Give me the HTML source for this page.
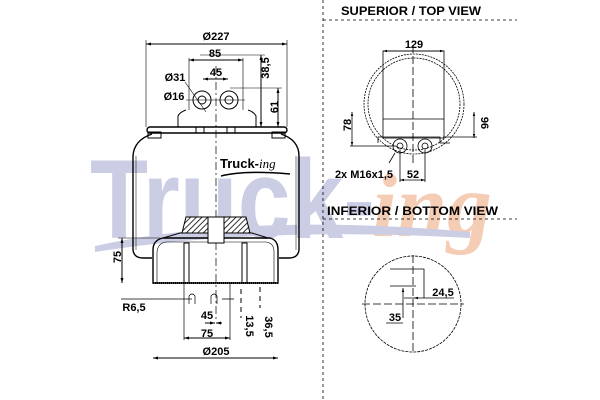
<!DOCTYPE html>
<html><head><style>
html,body{margin:0;padding:0;background:#fff;}
svg{display:block;font-family:"Liberation Sans",sans-serif;}
</style></head><body>
<svg width="600" height="400" viewBox="0 0 600 400" xmlns="http://www.w3.org/2000/svg">
<defs>
<pattern id="h" width="4" height="4" patternUnits="userSpaceOnUse" patternTransform="rotate(45)">
<rect width="4" height="4" fill="#fff"/><line x1="0" y1="0" x2="0" y2="4" stroke="#000" stroke-width="1.6"/></pattern>
<marker id="a" viewBox="0 0 10 10" refX="10" refY="5" markerWidth="5" markerHeight="5" orient="auto-start-reverse"><path d="M0,2 L10,5 L0,8z" fill="#000"/></marker>
</defs>
<!-- watermark -->
<g fill="#cbcde4" font-weight="bold" font-size="112" font-family="Liberation Sans,sans-serif">
<text x="90" y="238" textLength="285" lengthAdjust="spacingAndGlyphs">Truck-</text>
</g>
<text x="372" y="236" fill="#f5cdb5" font-style="italic" font-weight="bold" font-size="90" font-family="Liberation Serif,serif" textLength="120" lengthAdjust="spacingAndGlyphs">ing</text>
<path d="M95,246 Q250,212 470,232 L470,238 Q260,226 95,252z" fill="#cbcde4"/>
<!-- main drawing -->
<g stroke="#000" fill="none" stroke-width="1">
<line x1="146" y1="44" x2="287" y2="44" marker-start="url(#a)" marker-end="url(#a)"/>
<line x1="146" y1="40" x2="146" y2="127" stroke-width=".6"/>
<line x1="287" y1="40" x2="287" y2="127" stroke-width=".6"/>
<line x1="189" y1="60" x2="243" y2="60" marker-start="url(#a)" marker-end="url(#a)"/>
<line x1="189" y1="58" x2="189" y2="110" stroke-width=".6"/>
<line x1="243" y1="58" x2="243" y2="110" stroke-width=".6"/>
<line x1="203" y1="79" x2="228" y2="79" marker-start="url(#a)" marker-end="url(#a)"/>
<line x1="200" y1="55" x2="265" y2="55" stroke-width=".6"/>
<line x1="261" y1="55" x2="261" y2="127" marker-start="url(#a)" marker-end="url(#a)"/>
<line x1="230" y1="88" x2="282" y2="88" stroke-width=".6"/>
<line x1="278" y1="88" x2="278" y2="127" marker-start="url(#a)" marker-end="url(#a)"/>
<line x1="186" y1="100" x2="245" y2="100" stroke-width=".6"/>
<line x1="185" y1="82" x2="206" y2="112" stroke-width=".6"/>
<circle cx="202" cy="100" r="9"/><circle cx="202" cy="100" r="4"/>
<circle cx="229" cy="100" r="9"/><circle cx="229" cy="100" r="4"/>
<path d="M178,127 L178,116 Q180,112 186,110 M256,127 L256,116 Q254,112 248,110"/>
<rect x="147" y="127" width="140" height="6" rx="3" stroke-width="1.4"/>
<rect x="196" y="127" width="8" height="6"/><rect x="227" y="127" width="8" height="6"/>
<line x1="216" y1="66" x2="216" y2="320" stroke-dasharray="8,3,2,3" stroke-width=".7"/>
<!-- bellows -->
<path d="M152,134 Q134,140 133,156 L133,250 Q134,258 143,258 L152,258" stroke-width="1.4"/>
<path d="M281,134 Q299,140 299,156 L299,250 Q298,258 289,258 L279,258" stroke-width="1.4"/>
<path d="M136,156 L136,250" stroke-width=".5"/><path d="M296,156 L296,250" stroke-width=".5"/>
<rect x="148" y="132" width="13" height="6"/><rect x="272" y="132" width="13" height="6"/>
<!-- piston -->
<path d="M153,283 L153,250 Q153,240 163,238 L270,238 Q278,240 278,250 L278,283z" stroke-width="1.4"/>
<path d="M157,283 L157,252 Q158,243 166,242 L266,242 Q274,243 274,252 L274,283" stroke-width=".6"/>
<path d="M163,238 L180,233 L252,233 L268,238" stroke-width="1"/>
<path d="M182,233 L186,217 L246,217 L250,233z" fill="url(#h)"/>
<rect x="208" y="217" width="16" height="26" fill="#fff"/>
<rect x="184" y="243" width="5" height="40"/><rect x="242" y="243" width="5" height="40"/>
<line x1="153" y1="283" x2="278" y2="283" stroke-width="2" stroke-dasharray="1,1"/>
<line x1="184" y1="283" x2="184" y2="340" stroke-width=".7"/>
<line x1="230" y1="283" x2="230" y2="340" stroke-width=".7"/>
<path d="M189,304 L189,296 Q192,292 195,296 L195,304 M211,304 L211,296 Q214,292 217,296 L217,304" stroke-width=".7"/>
<line x1="121" y1="299" x2="192" y2="299" stroke-width=".8"/>
<line x1="222" y1="299" x2="234" y2="299" stroke-width=".8"/>
<line x1="205" y1="323" x2="215" y2="323" marker-end="url(#a)"/>
<line x1="222" y1="323" x2="216" y2="323" marker-end="url(#a)"/>
<line x1="184" y1="338" x2="230" y2="338" marker-start="url(#a)" marker-end="url(#a)"/>
<line x1="153" y1="358" x2="278" y2="358" marker-start="url(#a)" marker-end="url(#a)"/>
<line x1="122" y1="238" x2="122" y2="283" marker-start="url(#a)" marker-end="url(#a)"/>
<line x1="118" y1="238" x2="160" y2="238" stroke-width=".6"/>
<line x1="241" y1="289" x2="241" y2="318" stroke-dasharray="5,4"/>
<line x1="260" y1="287" x2="260" y2="308" stroke-dasharray="5,4"/>
</g>
<g font-weight="bold" font-size="11" fill="#000" text-anchor="middle">
<text x="216" y="40">Ø227</text>
<text x="215" y="57">85</text>
<text x="216" y="76">45</text>
<text x="175" y="81">Ø31</text>
<text x="174" y="100">Ø16</text>
<text x="257" y="80" transform="rotate(-90 257 68)">38,5</text>
<text x="274" y="111" transform="rotate(-90 274 107)">61</text>
<text x="120" y="264" transform="rotate(-90 117 260)">75</text>
<text x="134" y="311">R6,5</text>
<text x="207" y="319">45</text>
<text x="207" y="337">75</text>
<text x="216" y="355">Ø205</text>
<text x="250" y="330" transform="rotate(90 250 326)">13,5</text>
<text x="269" y="331" transform="rotate(90 269 327)">36,5</text>
</g>
<text x="220" y="168" font-weight="bold" font-size="13" font-family="Liberation Sans Narrow,Liberation Sans,sans-serif">Truck-<tspan font-style="italic" font-weight="normal" font-family="Liberation Serif,serif">ing</tspan></text>
<path d="M221,176 Q245,170 290,174" stroke="#000" fill="none" stroke-width="1.5"/>
<!-- right panels -->
<g stroke="#000" stroke-width=".8" stroke-dasharray="3,3" fill="none">
<line x1="323" y1="0" x2="323" y2="400"/>
<line x1="323" y1="20" x2="517" y2="20"/>
<line x1="323" y1="219" x2="517" y2="219"/>
</g>
<g font-weight="bold" font-size="11.5" fill="#000">
<text x="341" y="15" textLength="140" lengthAdjust="spacingAndGlyphs">SUPERIOR / TOP VIEW</text>
<text x="327" y="215" textLength="171" lengthAdjust="spacingAndGlyphs">INFERIOR / BOTTOM VIEW</text>
</g>
<g stroke="#000" fill="none" stroke-width=".8">
<circle cx="414" cy="104" r="50" stroke-dasharray="2,1"/>
<circle cx="414" cy="104" r="46" stroke-dasharray="2,1"/>
<rect x="383" y="51" width="61" height="87"/>
<line x1="383" y1="119" x2="444" y2="119"/>
<line x1="413" y1="45" x2="413" y2="165" stroke-dasharray="8,3"/>
<line x1="383" y1="51" x2="444" y2="51" marker-start="url(#a)" marker-end="url(#a)"/>
<path d="M378,143 L378,137 L440,137 L440,143 L450,143"/>
<circle cx="400" cy="146" r="7"/><circle cx="400" cy="146" r="3"/>
<circle cx="425" cy="146" r="7"/><circle cx="425" cy="146" r="3"/>
<line x1="352" y1="112" x2="352" y2="146" marker-start="url(#a)" marker-end="url(#a)"/>
<line x1="350" y1="146" x2="395" y2="146"/>
<line x1="474" y1="112" x2="474" y2="138" marker-start="url(#a)" marker-end="url(#a)"/>
<line x1="443" y1="137" x2="477" y2="137"/>
<line x1="400" y1="150" x2="400" y2="182"/><line x1="425" y1="150" x2="425" y2="182"/>
<line x1="400" y1="180" x2="425" y2="180" marker-start="url(#a)" marker-end="url(#a)"/>
<line x1="389" y1="163" x2="395" y2="153"/>
<circle cx="413" cy="304" r="48" stroke-dasharray="3,1"/>
<line x1="362" y1="304" x2="464" y2="304" stroke-dasharray="8,3"/>
<line x1="413" y1="255" x2="413" y2="353" stroke-dasharray="8,3"/>
<path d="M390,269 L424,269 L424,298 M390,286 L416,286"/>
<line x1="404" y1="298" x2="454" y2="298"/>
<line x1="414" y1="298" x2="418" y2="298" marker-start="url(#a)"/>
<line x1="403" y1="288" x2="403" y2="318" marker-start="url(#a)"/>
<line x1="386" y1="323" x2="403" y2="323"/>
</g>
<g font-weight="bold" font-size="11" fill="#000" text-anchor="middle">
<text x="414" y="48">129</text>
<text x="352" y="130" transform="rotate(-90 349 128)">78</text>
<text x="481" y="123" transform="rotate(90 481 123)">96</text>
<text x="364" y="178">2x M16x1,5</text>
<text x="413" y="178">52</text>
<text x="443" y="296">24,5</text>
<text x="395" y="321">35</text>
</g>
</svg>
</body></html>
